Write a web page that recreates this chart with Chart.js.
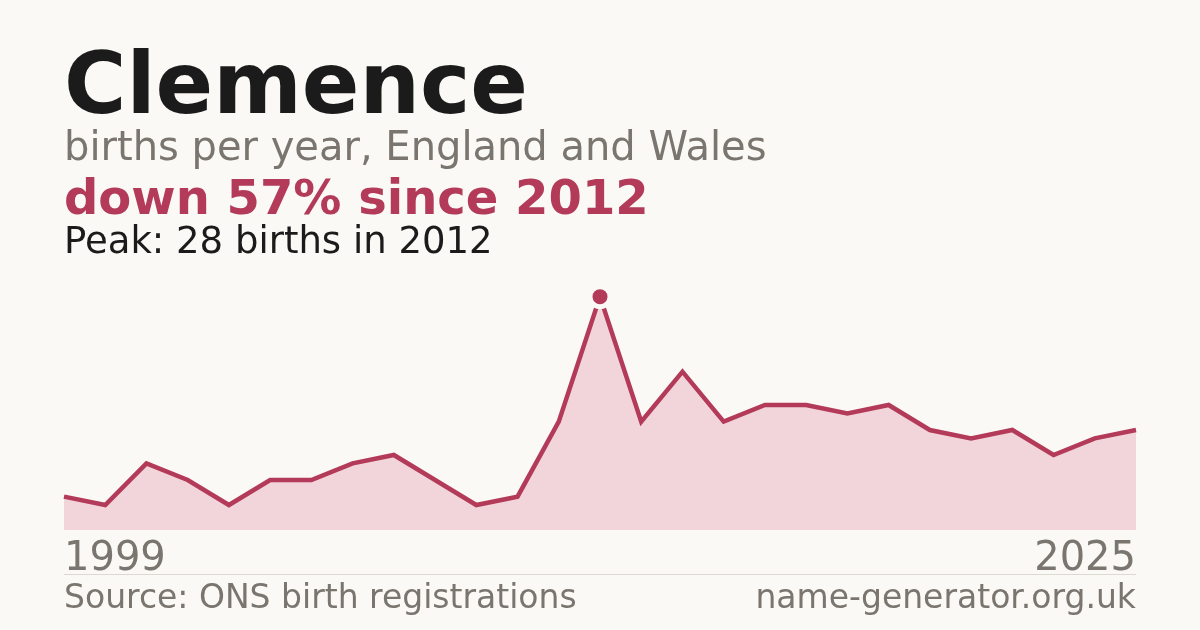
<!DOCTYPE html>
<html>
<head>
<meta charset="utf-8">
<script src="https://cdn.jsdelivr.net/npm/chart.js@4/dist/chart.umd.min.js"></script>
<style>
  html, body { margin: 0; padding: 0; background: #faf9f5; }
  #wrap { position: relative; width: 1200px; height: 630px; overflow: hidden; font-family: "DejaVu Sans", sans-serif; }
  #wrap canvas { position: absolute; left: 0; top: 0; }
  .t { position: absolute; white-space: nowrap; }
  #title { left: 64px; top: 41px; font-size: 85px; line-height: 85px; font-weight: bold; color: #1b1b1b; }
  #sub { left: 64px; top: 126px; font-size: 40px; line-height: 40px; color: #7a756e; }
  #change { left: 64px; top: 173px; font-size: 48px; line-height: 48px; font-weight: bold; color: #b33a58; }
  #peak { left: 64px; top: 222px; font-size: 37px; line-height: 37px; color: #1b1b1b; }
  .year { top: 536px; font-size: 40px; line-height: 40px; color: #7a756e; }
  #yFirst { left: 64px; }
  #yLast { right: 64px; }
  #rule { position: absolute; left: 64px; width: 1072px; top: 574px; height: 1px; background: #dcd9d2; }
  .foot { top: 580px; font-size: 33px; line-height: 33px; color: #7a756e; }
  #src { left: 64px; }
  #site { right: 64px; }
</style>
</head>
<body>
<div id="wrap">
  <canvas id="chart1" width="1200" height="630"></canvas>
  <div class="t" id="title">Clemence</div>
  <div class="t" id="sub">births per year, England and Wales</div>
  <div class="t" id="change">down 57% since 2012</div>
  <div class="t" id="peak">Peak: 28 births in 2012</div>
  <div class="t year" id="yFirst"></div>
  <div class="t year" id="yLast"></div>
  <div id="rule"></div>
  <div class="t foot" id="src">Source: ONS birth registrations</div>
  <div class="t foot" id="site">name-generator.org.uk</div>
</div>
<script>
const years = [];
for (let y = 1999; y <= 2025; y++) years.push(String(y));

const births = [4, 3, 8, 6, 3, 6, 6, 8, 9, 6, 3, 4, 13, 28, 13, 19, 13, 15, 15, 14, 15, 12, 11, 12, 9, 11, 12];

const tickLabels = ["1999", "2025"];

const lineColor = "#b33a58";
const bg = "#faf9f5";

// only the peak year gets a marker
const peakIdx = births.indexOf(Math.max(...births));
const radii = births.map((v, i) => i === peakIdx ? 10 : 0);

document.getElementById("yFirst").textContent = tickLabels[0];
document.getElementById("yLast").textContent = tickLabels[1];

const myChart = new Chart(document.getElementById("chart1"), {
  type: "line",
  data: {
    labels: years,
    datasets: [{
      data: births,
      borderColor: lineColor,
      borderWidth: 4.5,
      backgroundColor: "#f2d5da",
      fill: "start",
      tension: 0,
      pointRadius: radii,
      pointHoverRadius: radii,
      pointBackgroundColor: lineColor,
      pointBorderColor: bg,
      pointBorderWidth: 5,
      clip: false
    }]
  },
  options: {
    responsive: false,
    animation: false,
    devicePixelRatio: 1,
    layout: { padding: { left: 64, right: 64, top: 280, bottom: 100 } },
    plugins: { legend: { display: false }, tooltip: { enabled: false } },
    scales: {
      x: { display: false, offset: false },
      y: { display: false, min: 0, max: 30 }
    }
  }
});
</script>
</body>
</html>
